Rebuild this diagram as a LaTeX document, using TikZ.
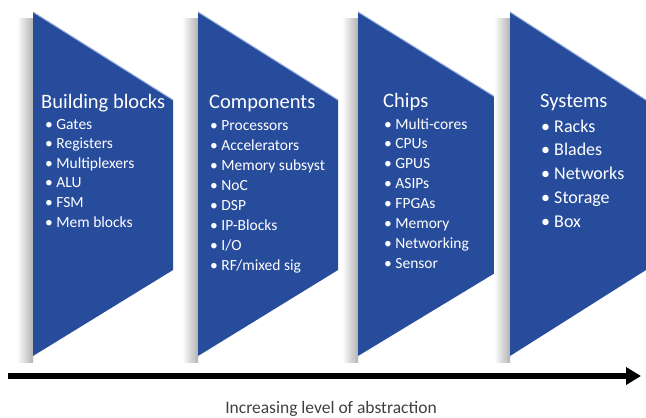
\documentclass[tikz,border=0pt]{standalone}
\usepackage{fontspec}
\setmainfont{Carlito}
\usetikzlibrary{arrows.meta}
\definecolor{stageblue}{RGB}{40,76,156}
\definecolor{stageedge}{RGB}{150,175,225}
\tikzset{
  stage/.style={fill=stageblue}, % Stufe
  stageshadow/.style={left color=white, right color=black!30}, % Schatten links
  title/.style={anchor=base west, inner sep=0pt, text=white,
    font=\fontsize{20.5bp}{24bp}\selectfont},
  item/.style={anchor=base west, inner sep=0pt, text=white,
    font=\fontsize{#1}{#1}\selectfont},
  item/.default=15.5bp
}

\begin{document}
\begin{tikzpicture}[x=1bp, y=-1bp,
>={Triangle[length=15bp, width=17bp]} % Pfeilspitze
]
\useasboundingbox (0,0) rectangle (646,417);

%Stufen
\foreach \x/\w in {33/140, 198/140, 358/142, 510/136}{%
  \shade[stageshadow] (\x-16,18) rectangle (\x,362);
  \fill[stage] (\x,12) -- (\x+\w,100) -- (\x+\w,270) -- (\x,356) -- cycle;
  \draw[stageedge, line width=1bp] (\x,12) -- (\x+\w,100);
}

%Texte
\node[title] (bb-title) at (41,108) {Building blocks};
\foreach \t [count=\i] in {Gates, Registers, Multiplexers, ALU, FSM, Mem blocks}
  \node[item] (bb-\i) at (45,{129+(\i-1)*19.6}) {\textbullet\ \t};

\node[title] (comp-title) at (209,108) {Components};
\foreach \t [count=\i] in {Processors, Accelerators, Memory subsyst, NoC, DSP,
    IP-Blocks, I/O, RF/mixed sig}
  \node[item] (comp-\i) at (210,{130+(\i-1)*20}) {\textbullet\ \t};

\node[title] (chip-title) at (383,107) {Chips};
\foreach \t [count=\i] in {Multi-cores, CPUs, GPUS, ASIPs, FPGAs, Memory,
    Networking, Sensor}
  \node[item] (chip-\i) at (384,{129+(\i-1)*19.9}) {\textbullet\ \t};

\node[title] (sys-title) at (540,107) {Systems};
\foreach \t [count=\i] in {Racks, Blades, Networks, Storage, Box}
  \node[item=18bp] (sys-\i) at (541,{132+(\i-1)*23.8}) {\textbullet\ \t};

%Achse
\coordinate (axis-start) at (8,376);
\coordinate (axis-end) at (641,376);
\draw[->, line width=5.5bp] (axis-start) -- (axis-end);
\node[text=black!75, font=\fontsize{17.5bp}{19bp}\selectfont, anchor=base]
  (axis-label) at (331,413) {Increasing level of abstraction};

\end{tikzpicture}
\end{document}
